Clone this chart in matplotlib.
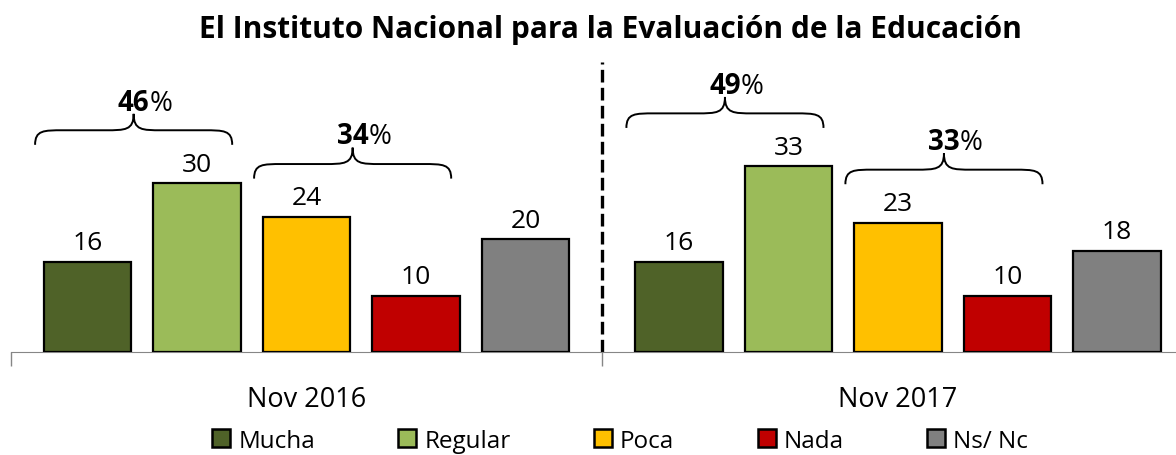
import matplotlib.pyplot as plt
from matplotlib.lines import Line2D
from matplotlib.path import Path
from matplotlib.patches import PathPatch

plt.rcParams['font.family'] = ['Open Sans', 'DejaVu Sans']

periodos = ['Nov 2016', 'Nov 2017']
categorias = ['Mucha', 'Regular', 'Poca', 'Nada', 'Ns/ Nc']
valores = [
    [16, 30, 24, 10, 20],
    [16, 33, 23, 10, 18],
]
colores = ['#4F6228', '#9BBB59', '#FFC000', '#C00000', '#808080']
# pares de barras agrupadas con llave (indice inicial, indice final)
llaves = [(0, 1), (2, 3)]

ancho_grupo = 5.4
inicio = 0.7
ancho_barra = 0.8

fig = plt.figure(figsize=(11.76, 4.56), dpi=100)
ax = fig.add_axes([11 / 1176, 1 - 353 / 456, 1 - 11 / 1176, 293 / 456])

for g, vals in enumerate(valores):
    base = g * ancho_grupo
    xs = [base + inicio + i for i in range(len(vals))]
    ax.bar(xs, vals, width=ancho_barra, color=colores, edgecolor='black',
           linewidth=1.6, zorder=3)
    for x, v in zip(xs, vals):
        ax.annotate(str(v), xy=(x, v), xytext=(0, 9), textcoords='offset points',
                    ha='center', va='baseline', fontsize=19)

    for a, b in llaves:
        x0 = xs[a] - ancho_barra / 2 - 0.08
        x1 = xs[b] + ancho_barra / 2 - 0.08
        y0 = max(vals[a:b + 1]) + 6.8
        h = 5.5
        xm = (x0 + x1) / 2
        r = (x1 - x0) / 7
        ym = y0 + h * 0.47
        verts = [
            (x0, y0), (x0, ym), (x0 + r * 0.3, ym), (x0 + r, ym),
            (xm - r, ym),
            (xm - r * 0.3, ym), (xm, ym), (xm, y0 + h),
            (xm, y0 + h),
            (xm, ym), (xm + r * 0.3, ym), (xm + r, ym),
            (x1 - r, ym),
            (x1 - r * 0.3, ym), (x1, ym), (x1, y0),
        ]
        codes = [Path.MOVETO, Path.CURVE4, Path.CURVE4, Path.CURVE4,
                 Path.LINETO,
                 Path.CURVE4, Path.CURVE4, Path.CURVE4,
                 Path.MOVETO,
                 Path.CURVE4, Path.CURVE4, Path.CURVE4,
                 Path.LINETO,
                 Path.CURVE4, Path.CURVE4, Path.CURVE4]
        ax.add_patch(PathPatch(Path(verts, codes), fill=False, edgecolor='black',
                               linewidth=1.4, clip_on=False))

        total = sum(vals[a:b + 1])
        t = ax.annotate(str(total), xy=(xm, y0 + h), xytext=(0, 3),
                        textcoords='offset points', ha='center', va='baseline',
                        fontsize=20, fontweight='bold')
        fig.canvas.draw()
        w = t.get_window_extent().width
        ax.annotate('%', xy=(xm, y0 + h), xytext=(w / 2 * 72 / fig.dpi, 3),
                    textcoords='offset points', ha='left', va='baseline', fontsize=20)

# linea divisoria entre periodos
ax.axvline(ancho_grupo, ymin=0, ymax=(353 - 63) / 293, color='black',
           linestyle=(0, (3.8, 1.6)), linewidth=2.4, zorder=2)

ax.set_xticks([i * ancho_grupo + inicio + 2 for i in range(len(periodos))])
ax.set_xticklabels(periodos, fontsize=19.5)
ax.tick_params(axis='x', length=0, pad=24)
ax.set_xticks([0, ancho_grupo], minor=True)
ax.tick_params(axis='x', which='minor', length=10, color='#868686', width=1)
ax.set_yticks([])
ax.set_xlim(0, 1165 / 109.5)
ax.set_ylim(0, 293 / 5.63)
for lado in ['top', 'right', 'left']:
    ax.spines[lado].set_visible(False)
ax.spines['bottom'].set_color('#868686')

fig.suptitle('El Instituto Nacional para la Evaluación de la Educación',
             x=0.519, y=0.967, va='top', fontsize=21.5, fontweight='bold')

handles = [Line2D([], [], linestyle='none', marker='s', markersize=12.5,
                  markerfacecolor=c, markeredgecolor='black', markeredgewidth=1.8)
           for c in colores]
fig.legend(handles, categorias, loc='center', bbox_to_anchor=(0.527, 0.031),
           ncol=5, frameon=False, fontsize=17.5, handlelength=0.8,
           handletextpad=0.3, columnspacing=3.4, borderaxespad=0)

fig.savefig('out.png', dpi=100)
